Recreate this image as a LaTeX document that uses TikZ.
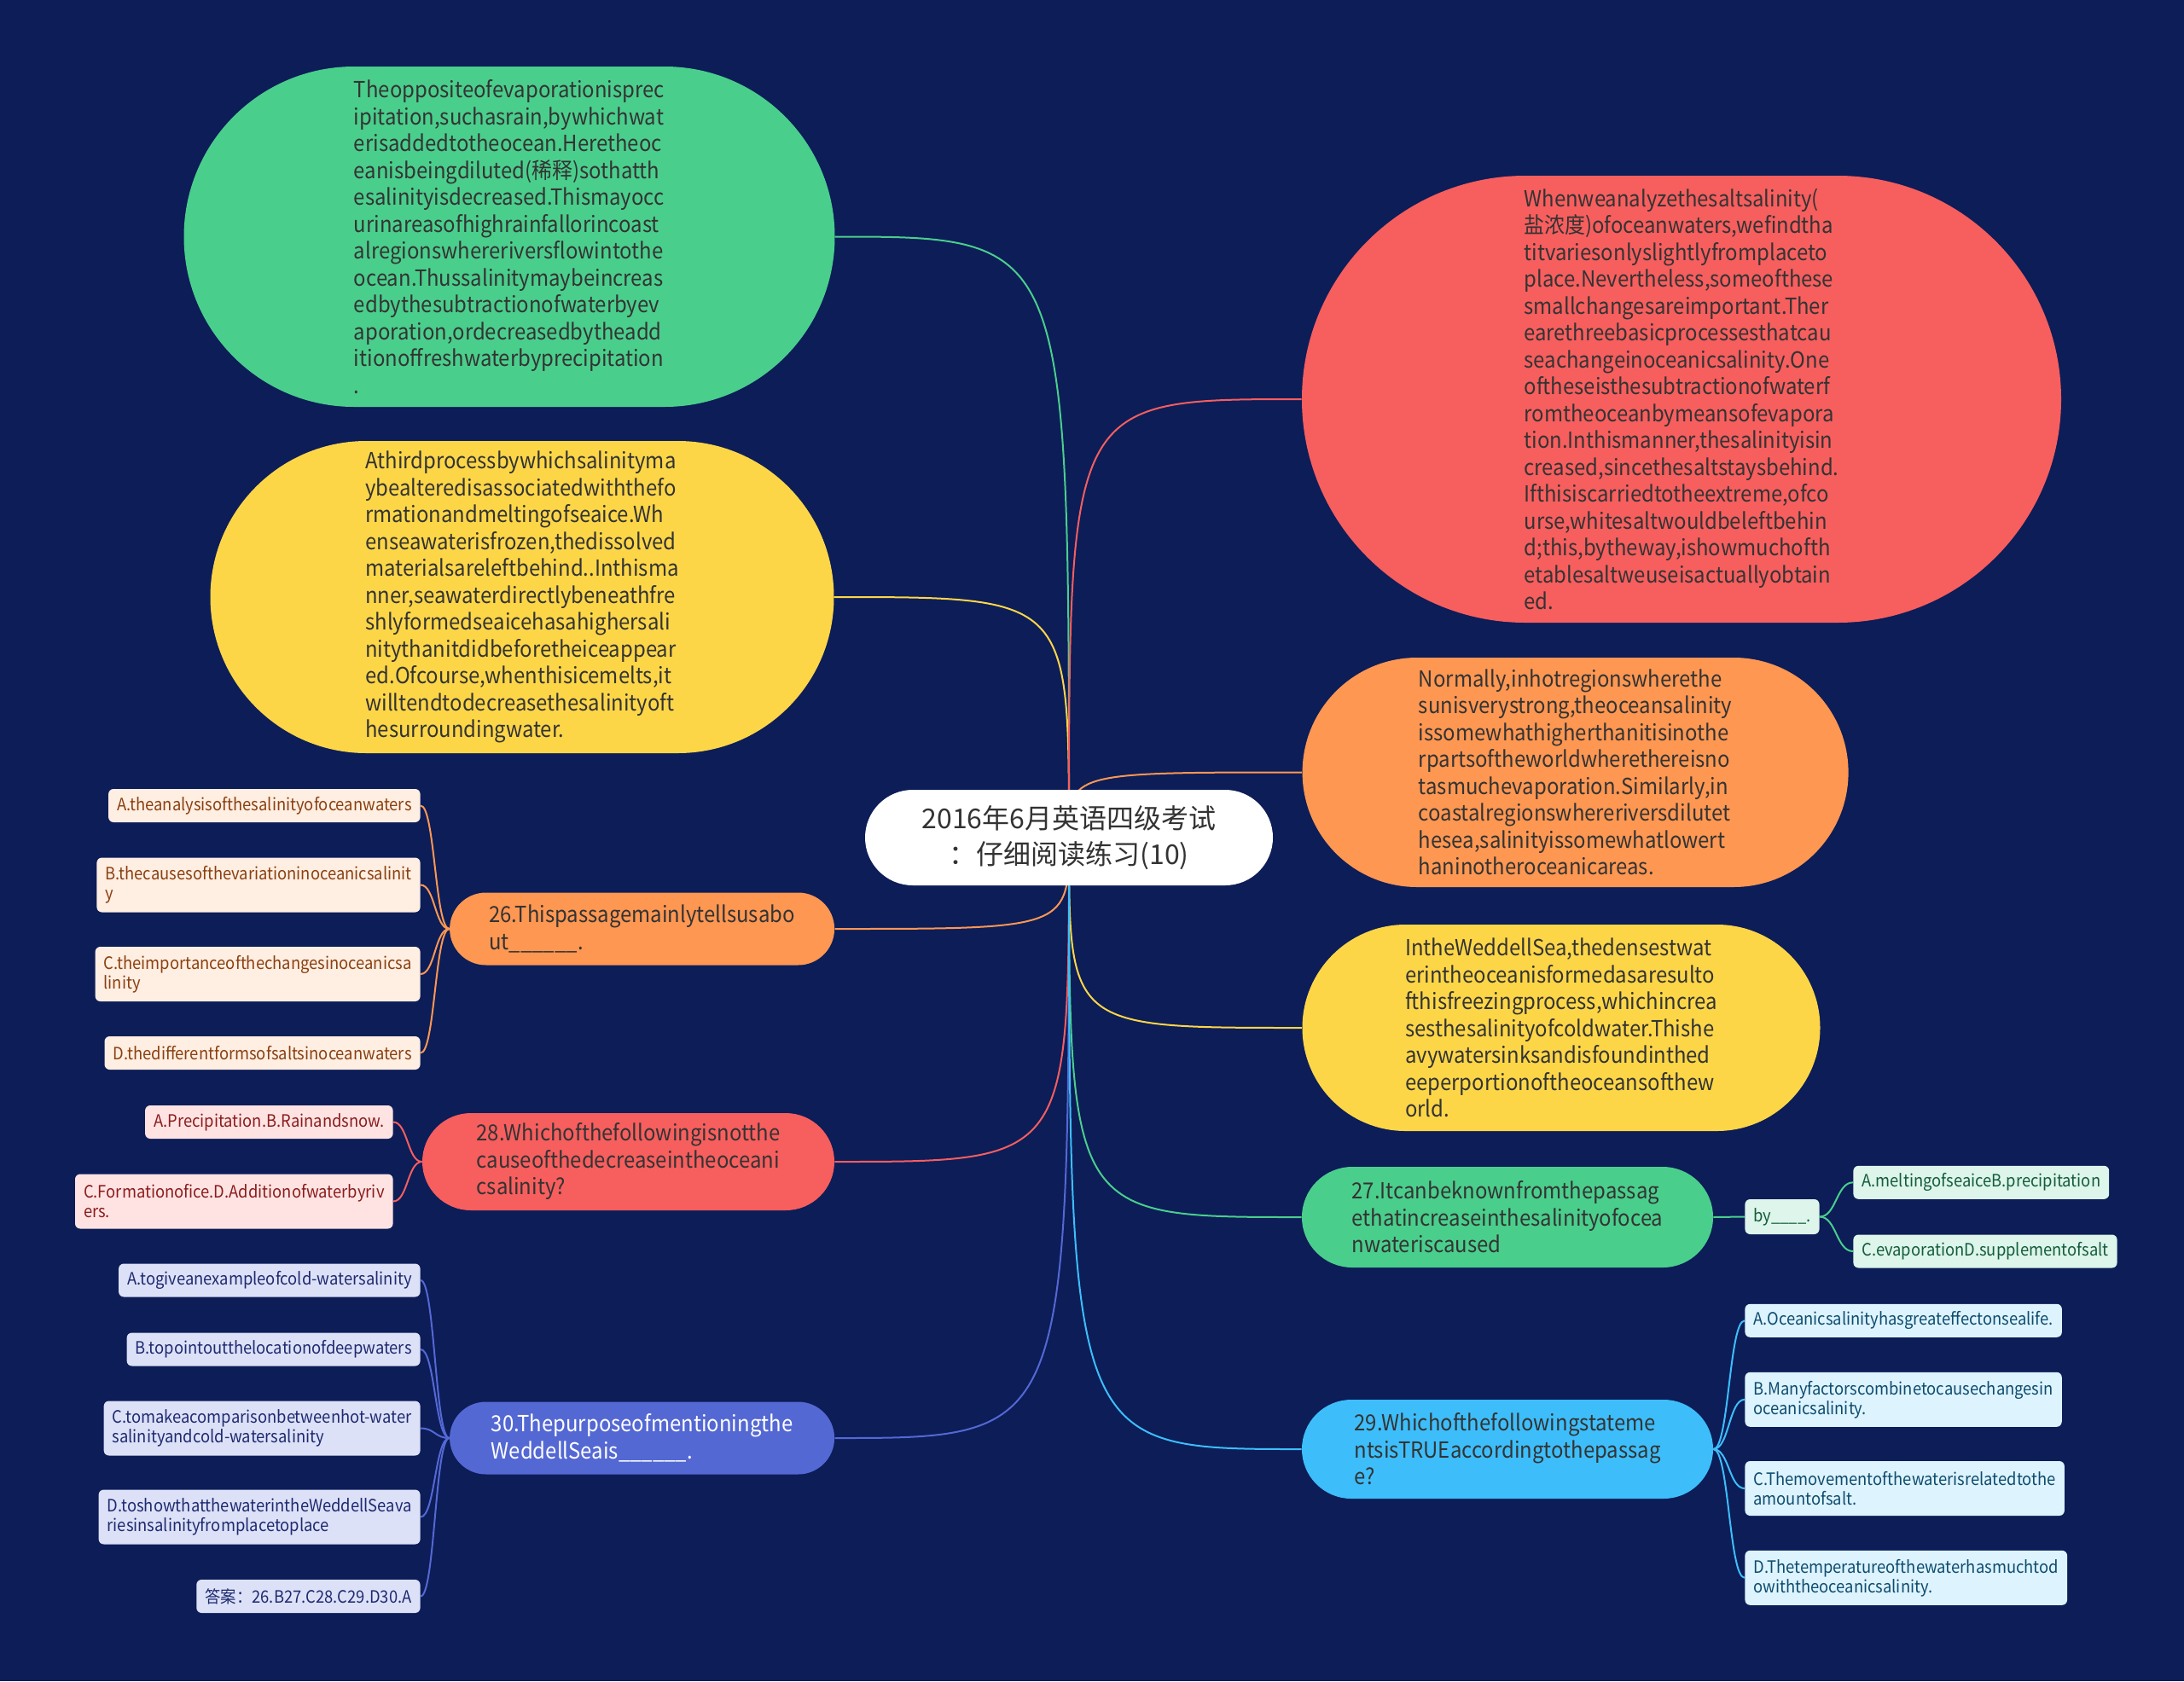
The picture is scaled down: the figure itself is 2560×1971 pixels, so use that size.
\documentclass[tikz,border=0pt]{standalone}
\usepackage{fontspec}
\setmainfont{Noto Sans CJK SC}[FakeStretch=0.92]
\usetikzlibrary{shapes.misc,calc}
\definecolor{bgc}{HTML}{0C1D58}
\definecolor{txt}{HTML}{333333}
\definecolor{cgreen}{HTML}{4ACE8C}
\definecolor{cyellow}{HTML}{FDD648}
\definecolor{cred}{HTML}{F75E5E}
\definecolor{corange}{HTML}{FD9752}
\definecolor{ccyan}{HTML}{3DBEFA}
\definecolor{cblue}{HTML}{5468D4}
\definecolor{fgreen}{HTML}{DDF5EA}\definecolor{tgreen}{HTML}{145C3C}
\definecolor{forange}{HTML}{FFEEE2}\definecolor{torange}{HTML}{8A4010}
\definecolor{fred}{HTML}{FFE3E3}\definecolor{tred}{HTML}{8B1C1C}
\definecolor{fblue}{HTML}{DDE1F7}\definecolor{tblue}{HTML}{1E2A70}
\definecolor{fcyan}{HTML}{DDF3FE}\definecolor{tcyan}{HTML}{0E4C6E}
\newfontfamily\cjk{Noto Sans CJK SC}
\pgfdeclarelayer{bg}\pgfdeclarelayer{edges}\pgfsetlayers{bg,edges,main}
\newcommand{\optlink}[5]{\draw[link,draw=#1] let \p1=(#2.#3), \p2=(#4.#5) in (\p1) .. controls ({(\x1+\x2)/2},\y1) and ({(\x1+\x2)/2},\y2) .. (\p2);}
\begin{document}
\begin{tikzpicture}[x=0.5pt,y=-0.5pt,
  big/.style={rounded rectangle, inner sep=0pt, align=left, text=txt, font=\fontsize{13}{15.75}\selectfont},
  opt/.style={rectangle, rounded corners=3pt, inner xsep=5pt, inner ysep=0pt, align=left, font=\fontsize{10}{11.5}\selectfont},
  one/.style={minimum height=19.5pt},
  two/.style={minimum height=32pt},
  link/.style={line width=1pt},
  rootnode/.style={rounded rectangle, fill=white, inner sep=0pt, align=center, text=txt, font=\cjk\fontsize{16}{21}\selectfont, minimum width=239pt, minimum height=56pt}
]
\begin{pgfonlayer}{bg}
\fill[bgc] (0,0) rectangle (2560,1971);
\end{pgfonlayer}
\path[use as bounding box] (0,0) rectangle (2560,1971);

% root
\node[rootnode] (root) at (1253,982) {2016年6月英语四级考试\\：仔细阅读练习(10)};

% big passage nodes
\node[big, fill=cgreen, minimum width=381.5pt, minimum height=199.5pt] (g1) at (597,277.5) {Theoppositeofevaporationisprec\\ipitation,suchasrain,bywhichwat\\erisaddedtotheocean.Heretheoc\\eanisbeingdiluted(稀释)sothatth\\esalinityisdecreased.Thismayocc\\urinareasofhighrainfallorincoast\\alregionswhereriversflowintothe\\ocean.Thussalinitymaybeincreas\\edbythesubtractionofwaterbyev\\aporation,ordecreasedbytheadd\\itionoffreshwaterbyprecipitation\\.};

\node[big, fill=cyellow, minimum width=365.5pt, minimum height=183pt] (y1) at (612,700) {Athirdprocessbywhichsalinityma\\ybealteredisassociatedwiththefo\\rmationandmeltingofseaice.Wh\\enseawaterisfrozen,thedissolved\\materialsareleftbehind..Inthisma\\nner,seawaterdirectlybeneathfre\\shlyformedseaicehasahighersali\\nitythanitdidbeforetheiceappear\\ed.Ofcourse,whenthisicemelts,it\\willtendtodecreasethesalinityoft\\hesurroundingwater.};

\node[big, fill=cred, minimum width=445pt, minimum height=262pt] (r1) at (1971,468) {Whenweanalyzethesaltsalinity(\\盐浓度)ofoceanwaters,wefindtha\\titvariesonlyslightlyfromplaceto\\place.Nevertheless,someofthese\\smallchangesareimportant.Ther\\earethreebasicprocessesthatcau\\seachangeinoceanicsalinity.One\\oftheseisthesubtractionofwaterf\\romtheoceanbymeansofevapora\\tion.Inthismanner,thesalinityisin\\creased,sincethesaltstaysbehind.\\Ifthisiscarriedtotheextreme,ofco\\urse,whitesaltwouldbeleftbehin\\d;this,bytheway,ishowmuchofth\\etablesaltweuseisactuallyobtain\\ed.};

\node[big, fill=corange, minimum width=320pt, minimum height=134.5pt] (o1) at (1846.6,905.5) {Normally,inhotregionswherethe\\sunisverystrong,theoceansalinity\\issomewhathigherthanitisinothe\\rpartsoftheworldwherethereisno\\tasmuchevaporation.Similarly,in\\coastalregionswhereriversdilutet\\hesea,salinityissomewhatlowert\\haninotheroceanicareas.};

\node[big, fill=cyellow, minimum width=303.5pt, minimum height=121pt] (y2) at (1830,1205) {IntheWeddellSea,thedensestwat\\erintheoceanisformedasaresulto\\fthisfreezingprocess,whichincrea\\sesthesalinityofcoldwater.Thishe\\avywatersinksandisfoundinthed\\eeperportionoftheoceansofthew\\orld.};

% question nodes
\node[big, fill=cgreen, minimum width=241pt, minimum height=59pt] (q27) at (1767,1427) {27.Itcanbeknownfromthepassag\\ethatincreaseinthesalinityofocea\\nwateriscaused};
\node[big, fill=ccyan, minimum width=241pt, minimum height=58pt] (q29) at (1767,1699) {29.Whichofthefollowingstateme\\ntsisTRUEaccordingtothepassag\\e?};
\node[big, fill=corange, minimum width=225.5pt, minimum height=42.5pt] (q26) at (752.6,1089) {26.Thispassagemainlytellsusabo\\ut\_\_\_\_\_\_.};
\node[big, fill=cred, minimum width=241.5pt, minimum height=57pt] (q28) at (736.5,1362) {28.Whichofthefollowingisnotthe\\causeofthedecreaseintheoceani\\csalinity?};
\node[big, fill=cblue, text=white, minimum width=225.5pt, minimum height=42.5pt] (q30) at (752.6,1686) {30.Thepurposeofmentioningthe\\WeddellSeais\_\_\_\_\_\_.};

% options of 26
\node[opt, one, fill=forange, text=torange, anchor=east] (a26) at (493,944.5) {A.theanalysisofthesalinityofoceanwaters};
\node[opt, two, fill=forange, text=torange, anchor=east] (b26) at (493,1037.5) {B.thecausesofthevariationinoceanicsalinit\\y};
\node[opt, two, fill=forange, text=torange, anchor=east] (c26) at (493,1142) {C.theimportanceofthechangesinoceanicsa\\linity};
\node[opt, one, fill=forange, text=torange, anchor=east] (d26) at (493,1234.5) {D.thedifferentformsofsaltsinoceanwaters};

% options of 28
\node[opt, one, fill=fred, text=tred, anchor=east] (a28) at (461,1315.5) {A.Precipitation.B.Rainandsnow.};
\node[opt, two, fill=fred, text=tred, anchor=east] (c28) at (461,1408.5) {C.Formationofice.D.Additionofwaterbyriv\\ers.};

% options of 30
\node[opt, one, fill=fblue, text=tblue, anchor=east] (a30) at (493,1501) {A.togiveanexampleofcold-watersalinity};
\node[opt, one, fill=fblue, text=tblue, anchor=east] (b30) at (493,1582) {B.topointoutthelocationofdeepwaters};
\node[opt, two, fill=fblue, text=tblue, anchor=east] (c30) at (493,1674.5) {C.tomakeacomparisonbetweenhot-water\\salinityandcold-watersalinity};
\node[opt, two, fill=fblue, text=tblue, anchor=east] (d30) at (493,1778.5) {D.toshowthatthewaterintheWeddellSeava\\riesinsalinityfromplacetoplace};
\node[opt, one, fill=fblue, text=tblue, anchor=east] (e30) at (493,1871.5) {答案：26.B27.C28.C29.D30.A};

% 27 chain
\node[opt, one, fill=fgreen, text=tgreen, anchor=west, minimum height=20.5pt] (by27) at (2045,1426.5) {by\_\_\_\_.};
\node[opt, one, fill=fgreen, text=tgreen, anchor=west] (a27) at (2172,1386.3) {A.meltingofseaiceB.precipitation};
\node[opt, one, fill=fgreen, text=tgreen, anchor=west] (c27) at (2172,1467) {C.evaporationD.supplementofsalt};

% options of 29
\node[opt, one, fill=fcyan, text=tcyan, anchor=west] (a29) at (2045,1548.3) {A.Oceanicsalinityhasgreateffectonsealife.};
\node[opt, two, fill=fcyan, text=tcyan, anchor=west] (b29) at (2045,1640.8) {B.Manyfactorscombinetocausechangesin\\oceanicsalinity.};
\node[opt, two, fill=fcyan, text=tcyan, anchor=west] (c29) at (2045,1745) {C.Themovementofthewaterisrelatedtothe\\amountofsalt.};
\node[opt, two, fill=fcyan, text=tcyan, anchor=west] (d29) at (2045,1849.8) {D.Thetemperatureofthewaterhasmuchtod\\owiththeoceanicsalinity.};

\begin{pgfonlayer}{edges}
% root links
\draw[link, draw=cgreen] (root.center) .. controls (root.center |- g1.east) .. (g1.east);
\draw[link, draw=cyellow] (root.center) .. controls (root.center |- y1.east) .. (y1.east);
\draw[link, draw=corange] (root.center) .. controls (root.center |- q26.east) .. (q26.east);
\draw[link, draw=cred] (root.center) .. controls (root.center |- q28.east) .. (q28.east);
\draw[link, draw=cblue] (root.center) .. controls (root.center |- q30.east) .. (q30.east);
\draw[link, draw=cred] (root.center) .. controls (root.center |- r1.west) .. (r1.west);
\draw[link, draw=corange] (root.center) .. controls (root.center |- o1.west) .. (o1.west);
\draw[link, draw=cyellow] (root.center) .. controls (root.center |- y2.west) .. (y2.west);
\draw[link, draw=cgreen] (root.center) .. controls (root.center |- q27.west) .. (q27.west);
\draw[link, draw=ccyan] (root.center) .. controls (root.center |- q29.west) .. (q29.west);
% option links
\optlink{corange}{q26}{west}{a26}{east}
\optlink{corange}{q26}{west}{b26}{east}
\optlink{corange}{q26}{west}{c26}{east}
\optlink{corange}{q26}{west}{d26}{east}
\optlink{cred}{q28}{west}{a28}{east}
\optlink{cred}{q28}{west}{c28}{east}
\optlink{cblue}{q30}{west}{a30}{east}
\optlink{cblue}{q30}{west}{b30}{east}
\optlink{cblue}{q30}{west}{c30}{east}
\optlink{cblue}{q30}{west}{d30}{east}
\optlink{cblue}{q30}{west}{e30}{east}
\draw[link, draw=cgreen] (q27.east) -- (by27.west);
\optlink{cgreen}{by27}{east}{a27}{west}
\optlink{cgreen}{by27}{east}{c27}{west}
\optlink{ccyan}{q29}{east}{a29}{west}
\optlink{ccyan}{q29}{east}{b29}{west}
\optlink{ccyan}{q29}{east}{c29}{west}
\optlink{ccyan}{q29}{east}{d29}{west}
\end{pgfonlayer}
\end{tikzpicture}
\end{document}
